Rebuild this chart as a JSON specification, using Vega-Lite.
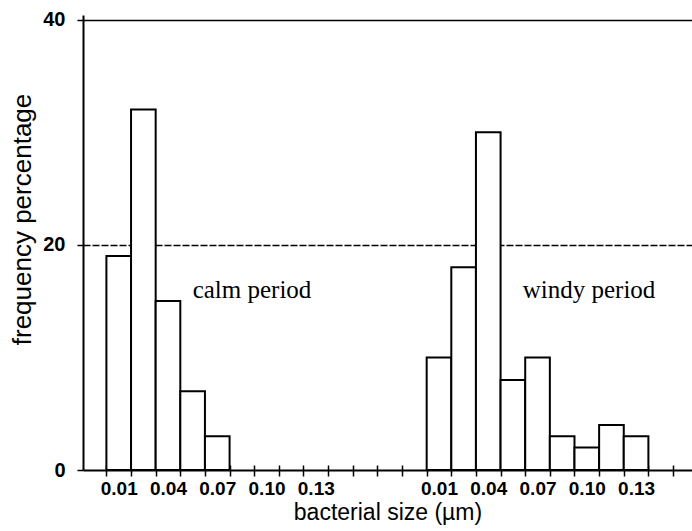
{
  "$schema": "https://vega.github.io/schema/vega-lite/v6.json",
  "width": 609,
  "height": 455,
  "autosize": {"type": "none"},
  "padding": {"left": 83, "top": 15, "right": 0, "bottom": 61},
  "background": "white",
  "config": {"view": {"stroke": null}, "font": "Liberation Sans"},
  "datasets": {
    "bars": [
      {"period": "calm", "bin": 0, "size": 0.01, "freq": 19},
      {"period": "calm", "bin": 1, "size": 0.025, "freq": 32},
      {"period": "calm", "bin": 2, "size": 0.04, "freq": 15},
      {"period": "calm", "bin": 3, "size": 0.055, "freq": 7},
      {"period": "calm", "bin": 4, "size": 0.07, "freq": 3},
      {"period": "windy", "bin": 0, "size": 0.01, "freq": 10},
      {"period": "windy", "bin": 1, "size": 0.025, "freq": 18},
      {"period": "windy", "bin": 2, "size": 0.04, "freq": 30},
      {"period": "windy", "bin": 3, "size": 0.055, "freq": 8},
      {"period": "windy", "bin": 4, "size": 0.07, "freq": 10},
      {"period": "windy", "bin": 5, "size": 0.085, "freq": 3},
      {"period": "windy", "bin": 6, "size": 0.10, "freq": 2},
      {"period": "windy", "bin": 7, "size": 0.115, "freq": 4},
      {"period": "windy", "bin": 8, "size": 0.13, "freq": 3}
    ],
    "notes": [
      {"text": "calm period", "slot": 3.5, "freq": 15.3},
      {"text": "windy period", "slot": 16.9, "freq": 15.3}
    ]
  },
  "resolve": {"axis": {"x": "independent", "y": "independent"}},
  "layer": [
    {
      "data": {"name": "bars"},
      "transform": [
        {"calculate": "datum.bin + (datum.period === 'windy' ? 13 : 0)", "as": "start"},
        {"calculate": "datum.start + 1", "as": "end"}
      ],
      "mark": {"type": "rect", "fill": "white", "stroke": "black", "strokeWidth": 2},
      "encoding": {
        "x": {
          "field": "start",
          "type": "quantitative",
          "scale": {"domain": [-0.95, 23.77], "nice": false, "zero": false},
          "axis": {
            "orient": "bottom",
            "values": [0,1,2,3,4,5,6,7,8,9,10,11,12,13,14,15,16,17,18,19,20,21,22,23],
            "labelExpr": "indexof([0,2,4,6,8], round(datum.value)) >= 0 ? format(0.01 + 0.015 * round(datum.value), '.2f') : (indexof([13,15,17,19,21], round(datum.value)) >= 0 ? format(0.01 + 0.015 * (round(datum.value) - 13), '.2f') : '')",
            "labelOffset": 12.3,
            "labelOverlap": false,
            "labelFlush": false,
            "labelBound": false,
            "offset": -5,
            "domain": false,
            "tickSize": 11,
            "tickColor": "black",
            "tickWidth": 1.5,
            "labelFont": "Liberation Sans",
            "labelFontWeight": "bold",
            "labelFontSize": 19,
            "labelColor": "black",
            "labelPadding": 3,
            "grid": false,
            "title": "bacterial size (µm)",
            "titleFont": "Liberation Sans",
            "titleFontSize": 23,
            "titleFontWeight": "normal",
            "titleColor": "black",
            "titlePadding": 3
          }
        },
        "x2": {"field": "end"},
        "y": {
          "field": "freq",
          "type": "quantitative",
          "scale": {"domain": [0, 40.4], "nice": false},
          "axis": {
            "orient": "left",
            "values": [0, 20, 40],
            "grid": true,
            "gridColor": "black",
            "gridWidth": {"condition": {"test": "datum.value == 0", "value": 2.2}, "value": 1.4},
            "gridDash": {"condition": {"test": "datum.value == 20", "value": [7, 2]}, "value": []},
            "tickSize": 6,
            "tickColor": "black",
            "tickWidth": 1.5,
            "domainColor": "black",
            "domainWidth": 2,
            "labelFont": "Liberation Sans",
            "labelFontWeight": "bold",
            "labelFontSize": 20,
            "labelColor": "black",
            "labelPadding": 12,
            "title": "frequency percentage",
            "titleFont": "Liberation Sans",
            "titleFontSize": 26,
            "titleFontWeight": "normal",
            "titleColor": "black",
            "titlePadding": 7,
            "titleY": 204
          }
        },
        "y2": {"datum": 0}
      }
    },
    {
      "data": {"name": "notes"},
      "mark": {"type": "text", "font": "Liberation Serif", "fontSize": 25, "align": "left", "baseline": "alphabetic", "color": "black"},
      "encoding": {
        "x": {"field": "slot", "type": "quantitative", "axis": null},
        "y": {"field": "freq", "type": "quantitative", "axis": null},
        "text": {"field": "text"}
      }
    }
  ]
}
